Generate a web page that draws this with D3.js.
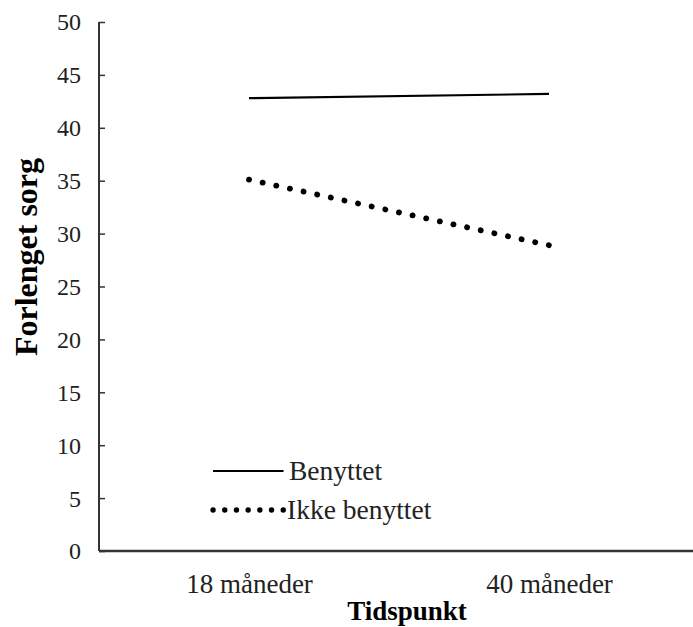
<!DOCTYPE html>
<html>
<head>
<meta charset="utf-8">
<script src="https://cdn.jsdelivr.net/npm/d3@7"></script>
<style>
  body { margin: 0; background: #fff; }
</style>
</head>
<body>
<div id="chart"></div>
<script>
// data
let timepoints = ["18 måneder", "40 måneder"];
let benyttet = [42.8, 43.2];
let ikke_benyttet = [35.1, 28.9];
let y_ticks = [0, 5, 10, 15, 20, 25, 30, 35, 40, 45, 50];
let series_names = ["Benyttet", "Ikke benyttet"];

const serif = "'Liberation Serif', 'Times New Roman', serif";
let margin, width, height;
let svg;

document.addEventListener('DOMContentLoaded', function () {
    margin = {top: 22, right: 0, bottom: 76, left: 99};
    width = 693 - margin.left - margin.right;
    height = 627 - margin.top - margin.bottom;

    svg = d3.select("#chart")
        .append("svg")
        .attr("width", 693)
        .attr("height", 627)
        .append("g")
        .attr("transform", "translate(" + margin.left + "," + margin.top + ")");

    const x = d3.scalePoint()
        .domain(timepoints)
        .range([0, 600])
        .padding(0.5);

    const y = d3.scaleLinear()
        .domain([0, 50])
        .range([height, 0]);

    // y axis, ticks pointing inward
    let yAxis = svg.append("g")
        .call(d3.axisRight(y).tickValues(y_ticks).tickSize(6).tickFormat(d3.format("d")));
    yAxis.select(".domain").attr("stroke", "#333").attr("stroke-width", 2)
        .attr("d", "M0,0V" + height);
    yAxis.selectAll(".tick line").attr("stroke", "#333").attr("stroke-width", 1.5);
    yAxis.selectAll(".tick text")
        .attr("x", -18)
        .attr("dy", "0.33em")
        .attr("text-anchor", "end")
        .style("font-family", serif)
        .style("font-size", "24px")
        .style("fill", "#222");

    // x axis, no ticks
    let xAxis = svg.append("g")
        .attr("transform", `translate(0, ${height})`)
        .call(d3.axisBottom(x).tickSize(0).tickPadding(0));
    xAxis.select(".domain").attr("stroke", "#333").attr("stroke-width", 2.5)
        .attr("d", "M0,0H" + width);
    xAxis.selectAll(".tick text")
        .attr("y", 42)
        .attr("dy", 0)
        .style("font-family", serif)
        .style("font-size", "27px")
        .style("fill", "#222");

    // axis titles
    svg.append("text")
        .attr("text-anchor", "middle")
        .attr("x", 308)
        .attr("y", height + 69)
        .style("font-family", serif)
        .style("font-size", "27px")
        .style("font-weight", "bold")
        .text("Tidspunkt");

    svg.append("text")
        .attr("text-anchor", "middle")
        .attr("transform", "rotate(-90)")
        .attr("x", -235)
        .attr("y", -62)
        .style("font-family", serif)
        .style("font-size", "32px")
        .style("font-weight", "bold")
        .text("Forlenget sorg");

    const line = d3.line()
        .x((d, i) => x(timepoints[i]))
        .y(d => y(d));

    svg.append("path")
        .datum(benyttet)
        .attr("d", line)
        .attr("fill", "none")
        .attr("stroke", "#000")
        .attr("stroke-width", 2.2);

    svg.append("path")
        .datum(ikke_benyttet)
        .attr("d", line)
        .attr("fill", "none")
        .attr("stroke", "#000")
        .attr("stroke-width", 5.8)
        .attr("stroke-linecap", "round")
        .attr("stroke-dasharray", "0.1 13.85");

    // legend
    const styles = [
        {w: 2.2, dash: null, cap: "butt"},
        {w: 5.3, dash: "0.1 11.6", cap: "round"}
    ];
    let legend = svg.selectAll("legend_items")
        .data(series_names)
        .enter()
        .append("g")
        .attr("transform", (d, i) => "translate(114," + (449 + i * 39) + ")");

    legend.append("line")
        .attr("x1", 0)
        .attr("x2", 70.5)
        .attr("y1", 0).attr("y2", 0)
        .attr("stroke", "#000")
        .attr("stroke-width", (d, i) => styles[i].w)
        .attr("stroke-linecap", (d, i) => styles[i].cap)
        .attr("stroke-dasharray", (d, i) => styles[i].dash);

    legend.append("text")
        .attr("x", (d, i) => i === 0 ? 76 : 74)
        .attr("y", 9)
        .style("font-family", serif)
        .style("font-size", "27.5px")
        .style("fill", "#222")
        .text(d => d);
});
</script>
</body>
</html>
